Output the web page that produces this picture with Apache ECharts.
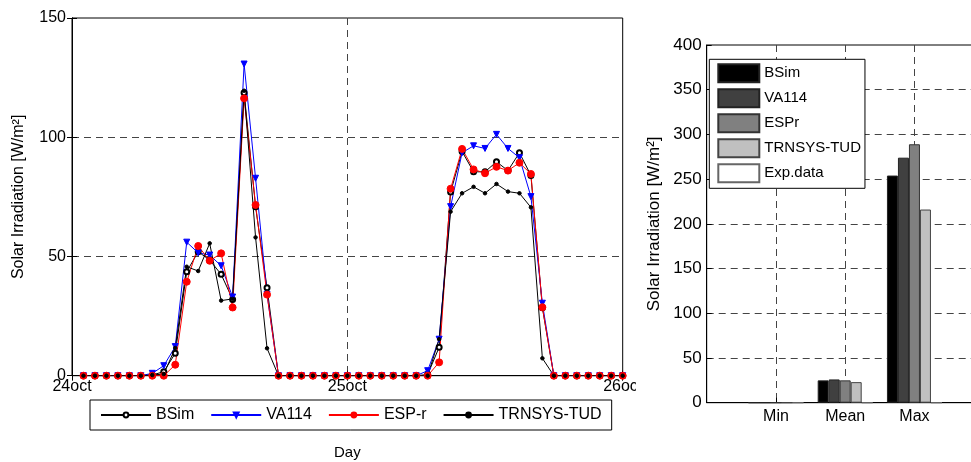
<!DOCTYPE html>
<html>
<head>
<meta charset="utf-8">
<title>Solar Irradiation</title>
<script src="https://cdn.jsdelivr.net/npm/echarts@6/dist/echarts.min.js"></script>
<style>
  body { margin: 0; background: #fff; }
  #line { position: absolute; left: 0; top: 0; width: 636px; height: 462px; }
  #bars { position: absolute; left: 636px; top: 0; width: 335px; height: 462px; background: #fff; }
</style>
</head>
<body>
<div id="line"></div>
<div id="bars"></div>
<script>
// hourly values, hour 1 .. 48 counted from 24oct 00:00
var hours = [1,2,3,4,5,6,7,8,9,10,11,12,13,14,15,16,17,18,19,20,21,22,23,24,
  25,26,27,28,29,30,31,32,33,34,35,36,37,38,39,40,41,42,43,44,45,46,47,48];
var dayTicks = { 0: '24oct', 24: '25oct', 48: '26oct' };

var bsim = [0,0,0,0,0,0, 0.3,1.7,9.4,43.6,52,48.5,42.5,32,118.7,70.9,36.9,
  0,0,0,0,0,0,0,0,0,0,0,0,0,
  0.5,11.9,77,94,85.5,85.5,89.7,86,93.5,84,28.5,
  0,0,0,0,0,0,0];
var va114 = [0,0,0,0,0,0, 1,4.2,12.2,56,51.5,50.6,46.1,33,130.7,82.8,34.1,
  0,0,0,0,0,0,0,0,0,0,0,0,0,
  2.1,15.3,70.9,93.5,96.4,95.3,101.2,95.3,91.4,75.1,30.4,
  0,0,0,0,0,0,0];
var espr = [0,0,0,0,0,0, 0,0,4.6,39.4,54.4,48.2,51.3,28.6,116.3,71.6,34,
  0,0,0,0,0,0,0,0,0,0,0,0,0,
  0,5.6,78.4,95.1,86.5,84.9,87.6,86,89.3,84.6,28.7,
  0,0,0,0,0,0,0];
var trnsys = [0,0,0,0,0,0, 0.3,0.7,11.6,45.7,43.9,55.5,31.5,32.2,119.5,58,11.5,
  0,0,0,0,0,0,0,0,0,0,0,0,0,
  0,15.3,68.8,76.5,79.2,76.5,80.4,77.2,76.5,70.6,7.3,
  0,0,0,0,0,0,0];

// summary bars: Min, Mean, Max
var barCats = ['Min', 'Mean', 'Max'];
var barBsim = [0, 25, 254];
var barVa114 = [0, 26, 274];
var barEspr = [0, 25, 289];
var barTrnsys = [0, 23, 216];
var barExp = [0, 0, 0];

var font = 'Liberation Sans, Arial, sans-serif';
var dash = { color: '#444', type: [7, 5], width: 1 };

function pairs(vals) {
  return vals.map(function(v, i) { return [hours[i], v]; });
}

function lineSeries(name, vals, symbol, size, color, rotate) {
  return {
    name: name, type: 'line', data: pairs(vals),
    symbol: symbol, symbolSize: size, symbolRotate: rotate || 0,
    showAllSymbol: true,
    lineStyle: { color: color, width: 1 },
    itemStyle: { color: color, borderColor: color, borderWidth: 1 }
  };
}

var lineChart = echarts.init(document.getElementById('line'));
lineChart.setOption({
  animation: false,
  textStyle: { fontFamily: font },
  grid: { left: 72, top: 18, width: 550.7, height: 357.7, outerBoundsMode: 'none',
    show: true, borderColor: '#000', borderWidth: 1 },
  legend: {
    left: 90, top: 400,
    padding: [7, 10, 7, 10],
    itemGap: 16, itemWidth: 50, itemHeight: 6,
    borderColor: '#000', borderWidth: 1,
    textStyle: { color: '#000', fontSize: 16, fontFamily: font },
    data: ['BSim', 'VA114', 'ESP-r', 'TRNSYS-TUD']
  },
  xAxis: [{
    type: 'value', min: 0, max: 48, interval: 24,
    name: 'Day', nameLocation: 'middle', nameGap: 70,
    nameTextStyle: { color: '#000', fontSize: 15, fontFamily: font },
    axisLine: { lineStyle: { color: '#000' } },
    axisTick: { inside: true, length: 5, lineStyle: { color: '#000' } },
    axisLabel: { color: '#000', fontSize: 16, margin: 3, fontFamily: font,
      formatter: function(v) { return dayTicks[v] || ''; } },
    splitLine: { show: true, showMinLine: false, showMaxLine: false, lineStyle: dash }
  }, {
    type: 'value', position: 'top', min: 0, max: 48, interval: 24,
    axisLine: { lineStyle: { color: '#000' } },
    axisTick: { inside: true, length: 5, lineStyle: { color: '#000' } },
    axisLabel: { show: false }, splitLine: { show: false }
  }],
  yAxis: [{
    type: 'value', min: 0, max: 150, interval: 50,
    name: 'Solar Irradiation [W/m²]', nameLocation: 'middle', nameGap: 45,
    nameTextStyle: { color: '#000', fontSize: 16, fontFamily: font },
    axisLine: { show: true, lineStyle: { color: '#000' } },
    axisTick: { show: true, inside: true, length: 5, lineStyle: { color: '#000' } },
    axisLabel: { color: '#000', fontSize: 16, margin: 6, fontFamily: font },
    splitLine: { show: true, showMinLine: false, showMaxLine: false, lineStyle: dash }
  }, {
    type: 'value', position: 'right', min: 0, max: 150, interval: 50,
    axisLine: { show: true, lineStyle: { color: '#000' } },
    axisTick: { show: true, inside: true, length: 5, lineStyle: { color: '#000' } },
    axisLabel: { show: false }, splitLine: { show: false }
  }],
  series: [
    lineSeries('BSim', bsim, 'emptyCircle', 5, '#000'),
    lineSeries('VA114', va114, 'triangle', 6, '#0000ff', 180),
    lineSeries('ESP-r', espr, 'circle', 7, '#ff0000'),
    lineSeries('TRNSYS-TUD', trnsys, 'circle', 3.5, '#000')
  ]
});

function barSeries(name, vals, color, edge) {
  return {
    name: name, type: 'bar', barWidth: 11, barGap: '0%',
    data: vals.map(function(v, i) { return [i + 1, v]; }),
    itemStyle: { color: color, borderColor: edge, borderWidth: 1 }
  };
}

var barChart = echarts.init(document.getElementById('bars'));
barChart.setOption({
  animation: false,
  textStyle: { fontFamily: font },
  grid: { left: 70.7, top: 45, width: 277, height: 357.7, outerBoundsMode: 'none',
    show: true, borderColor: '#000', borderWidth: 1 },
  legend: {
    orient: 'vertical', left: 73.3, top: 59.3,
    padding: [4, 4, 5, 8],
    itemGap: 5, itemWidth: 41, itemHeight: 18,
    icon: 'rect',
    borderColor: '#000', borderWidth: 1, backgroundColor: '#fff',
    textStyle: { color: '#000', fontSize: 15, fontFamily: font },
    data: ['BSim', 'VA114', 'ESPr', 'TRNSYS-TUD', 'Exp.data']
  },
  xAxis: {
    type: 'value', min: 0, max: 4, interval: 1,
    axisLine: { lineStyle: { color: '#000' } },
    axisTick: { inside: true, length: 5, lineStyle: { color: '#000' } },
    axisLabel: { color: '#000', fontSize: 16, margin: 6, fontFamily: font,
      formatter: function(v) { return barCats[v - 1] || ''; } },
    splitLine: { show: true, showMinLine: false, showMaxLine: false, lineStyle: dash }
  },
  yAxis: {
    type: 'value', min: 0, max: 400, interval: 50,
    name: 'Solar Irradiation [W/m²]', nameLocation: 'middle', nameGap: 41,
    nameTextStyle: { color: '#000', fontSize: 17, fontFamily: font },
    axisLine: { show: true, lineStyle: { color: '#000' } },
    axisTick: { show: true, inside: true, length: 5, lineStyle: { color: '#000' } },
    axisLabel: { color: '#000', fontSize: 17, margin: 5, fontFamily: font },
    splitLine: { show: true, showMinLine: false, showMaxLine: false, lineStyle: dash }
  },
  series: [
    barSeries('BSim', barBsim, '#000000', '#222'),
    barSeries('VA114', barVa114, '#404040', '#222'),
    barSeries('ESPr', barEspr, '#808080', '#333'),
    barSeries('TRNSYS-TUD', barTrnsys, '#c0c0c0', '#444'),
    barSeries('Exp.data', barExp, '#ffffff', '#666')
  ]
});
</script>
</body>
</html>
